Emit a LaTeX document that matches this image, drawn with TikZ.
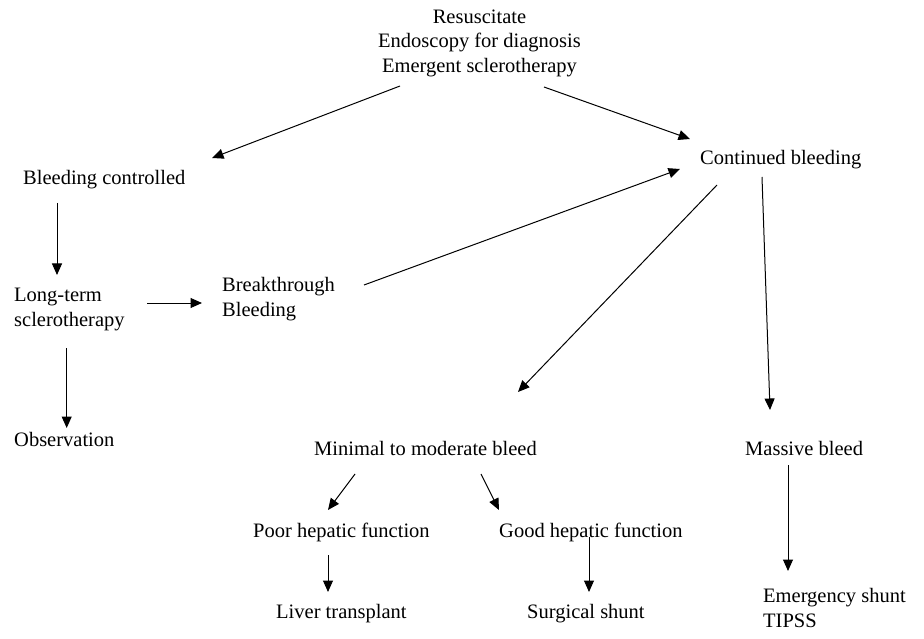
\documentclass[tikz,border=0pt]{standalone}
\usepackage{fontspec}
\setmainfont{Liberation Serif}
\usetikzlibrary{arrows.meta}
\begin{document}
\begin{tikzpicture}[x=1pt,y=-1pt,
  txt/.style={inner sep=0pt, font=\fontsize{20.5}{24.8}\selectfont, anchor=base west},
  arr/.style={-{Triangle[length=11.5pt,width=10pt]}, line width=1pt, black}]
\useasboundingbox (0,0) rectangle (924,639);
% nodes (base anchor of a multi-line node = baseline of its last line)
\node[txt, align=center, anchor=base] (top) at (479.5,72.7) {Resuscitate\\Endoscopy for diagnosis\\Emergent sclerotherapy};
\node[txt] (ctrl) at (23,185) {Bleeding controlled};
\node[txt] (cont) at (700,165) {Continued bleeding};
\node[txt, align=left] (lt) at (14,326.7) {Long-term\\sclerotherapy};
\node[txt, align=left] (bt) at (222,316.7) {Breakthrough\\Bleeding};
\node[txt] (obs) at (14,446) {Observation};
\node[txt] (min) at (314,455) {Minimal to moderate bleed};
\node[txt] (mas) at (745,455) {Massive bleed};
\node[txt] (poor) at (253,537) {Poor hepatic function};
\node[txt] (good) at (499,537) {Good hepatic function};
\node[txt] (liver) at (276,618) {Liver transplant};
\node[txt] (surg) at (527,618) {Surgical shunt};
\node[txt, align=left] (emer) at (763,627) {Emergency shunt\\TIPSS};
% connectors
\draw[arr] ([shift={(-79.5,13.3)}]top.base) -- ([shift={(189,-27)}]ctrl.base west);
\draw[arr] ([shift={(64.5,14.3)}]top.base) -- ([shift={(-10,-26)}]cont.base west);
\draw[arr] ([shift={(34,18)}]ctrl.base west) -- ([shift={(43,-51.7)}]lt.base west);
\draw[arr] ([shift={(133,-23.7)}]lt.base west) -- ([shift={(-20,-13.7)}]bt.base west);
\draw[arr] ([shift={(52.7,21.3)}]lt.base west) -- ([shift={(52.7,-18)}]obs.base west);
\draw[arr] ([shift={(142,-31.7)}]bt.base west) -- ([shift={(-20,4)}]cont.base west);
\draw[arr] ([shift={(62,12)}]cont.base west) -- ([shift={(25,-45)}]mas.base west);
\draw[arr] ([shift={(17,20)}]cont.base west) -- ([shift={(204,-63)}]min.base west);
\draw[arr] ([shift={(41,19)}]min.base west) -- ([shift={(75,-27)}]poor.base west);
\draw[arr] ([shift={(167,19)}]min.base west) -- ([shift={(0,-27)}]good.base west);
\draw[arr] ([shift={(75,18)}]poor.base west) -- ([shift={(52,-26)}]liver.base west);
\draw[arr] ([shift={(90,0)}]good.base west) -- ([shift={(62,-26)}]surg.base west);
\draw[arr] ([shift={(43,10)}]mas.base west) -- ([shift={(25,-56)}]emer.base west);
\end{tikzpicture}
\end{document}
